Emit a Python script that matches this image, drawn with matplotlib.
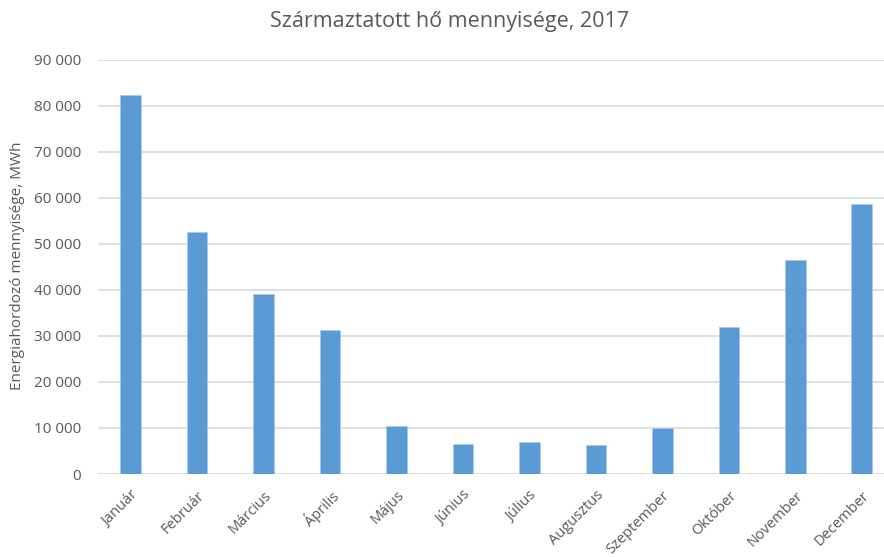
import matplotlib.pyplot as plt

months = ["Január", "Február", "Március", "Április", "Május", "Június",
          "Július", "Augusztus", "Szeptember", "Október", "November", "December"]
heat_mwh = [82300, 52500, 39100, 31200, 10500, 6600,
            7000, 6250, 10100, 31900, 46400, 58650]
yticks = [0, 10000, 20000, 30000, 40000, 50000, 60000, 70000, 80000, 90000]

plt.rcParams['font.family'] = ['Open Sans', 'DejaVu Sans']
txt = '#595959'

W, H = 884, 557
fig = plt.figure(figsize=(W / 100, H / 100), dpi=100)
left, right, top, bottom = 97.5, 884, 59.7, 474
ax = fig.add_axes([left / W, 1 - bottom / H, (right - left) / W, (bottom - top) / H])

x = range(len(months))
ax.bar(x, heat_mwh, width=0.31, color='#5B9BD5', edgecolor='#A9CBEA', linewidth=0.6, zorder=3)

ax.set_ylim(0, 90000)
ax.set_xlim(-0.5, 11.5 - (895 - 884) / 66.5)
ax.set_yticks(yticks)
ax.set_yticklabels([f"{v:,}".replace(",", " ") for v in yticks], color=txt, fontsize=11)
ax.set_xticks(list(x))
ax.set_xticklabels(months, rotation=45, ha='right', rotation_mode='anchor', color=txt, fontsize=10.5)
ax.tick_params(length=0, axis='both')
ax.tick_params(axis='y', pad=12)
ax.tick_params(axis='x', pad=10)
ax.grid(axis='y', color='#D9D9D9', linewidth=1.2, zorder=0)
for s in ax.spines.values():
    s.set_visible(False)

fig.text(18 / W, 1 - 266 / H, "Energiahordozó mennyisége, MWh", rotation=90,
         ha='center', va='center', color=txt, fontsize=11)
fig.text(450 / W, 1 - 22 / H, "Származtatott hő mennyisége, 2017", ha='center', va='center',
         color=txt, fontsize=15.5)

fig.savefig("out.png", dpi=100)
